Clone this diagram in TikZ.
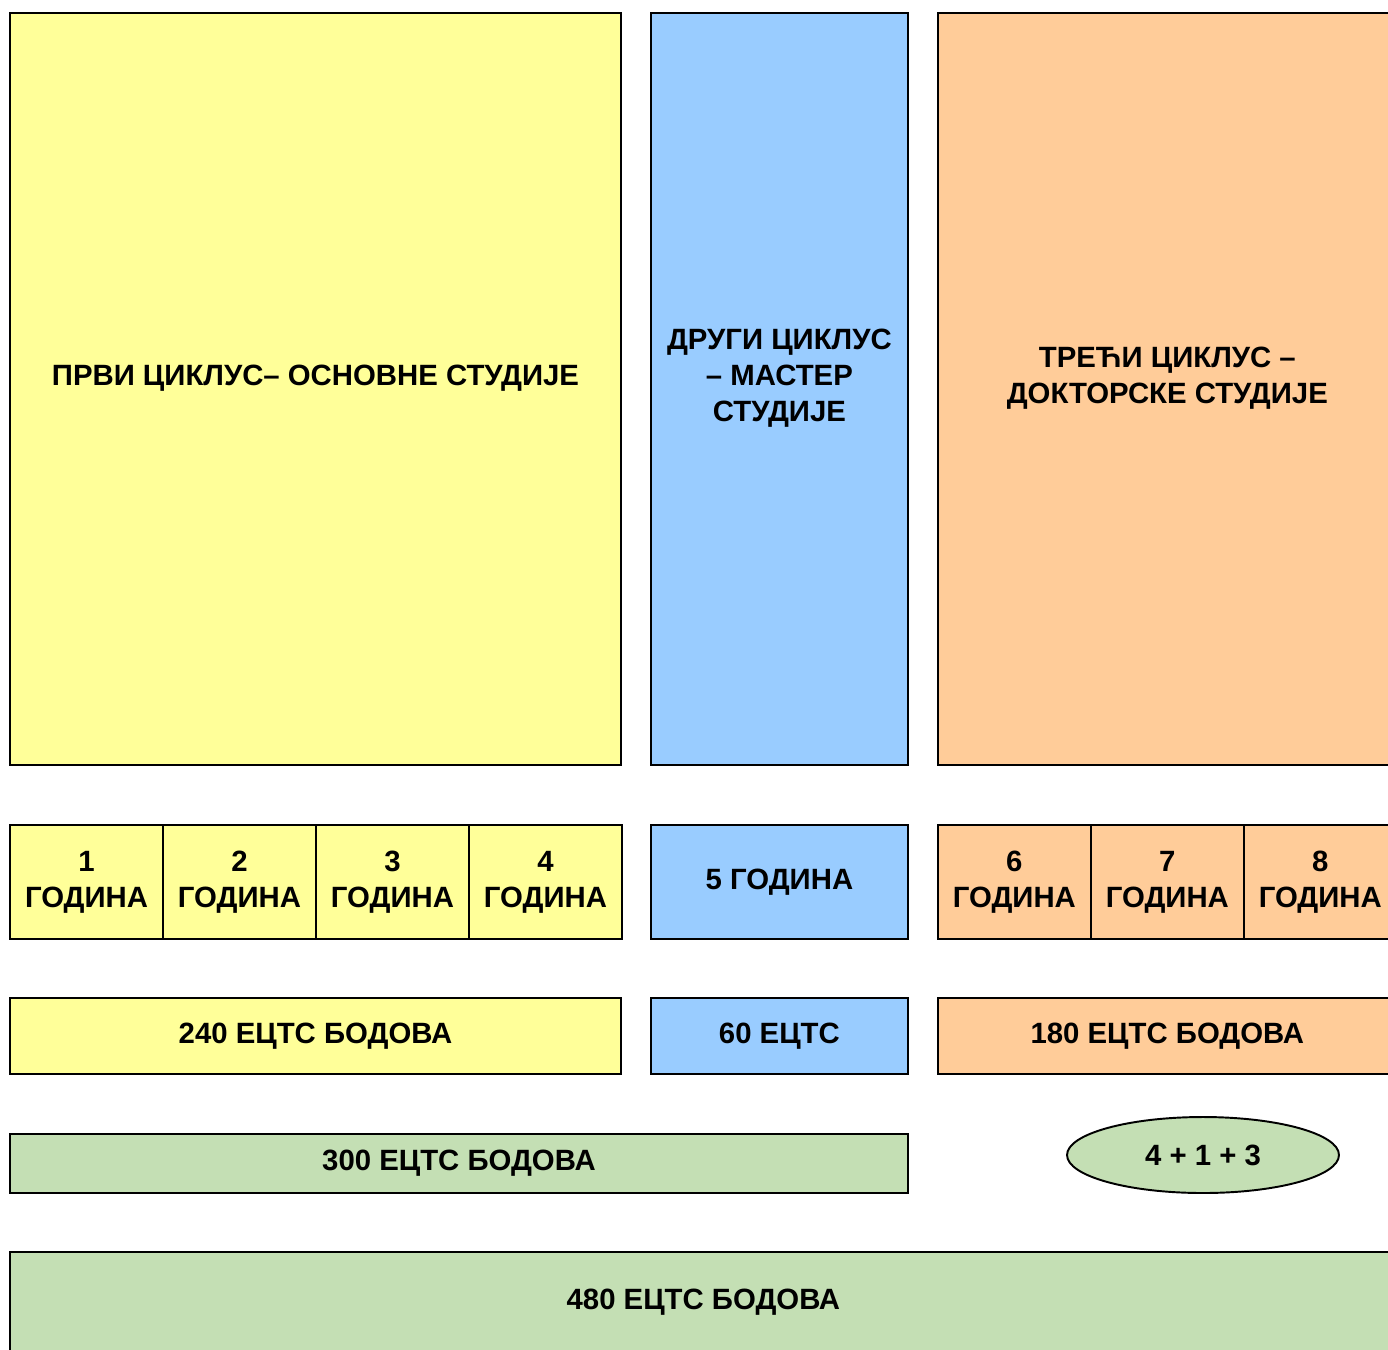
\documentclass[tikz,border=0pt]{standalone}
\usepackage{fontspec}
\setmainfont{Liberation Sans}
\usepackage{tikz}
\usetikzlibrary{positioning}
\usetikzlibrary{shapes}
\definecolor{yel}{HTML}{FFFF99}
\definecolor{blu}{HTML}{99CCFF}
\definecolor{ora}{HTML}{FFCC99}
\definecolor{grn}{HTML}{C4DFB4}

\begin{document}
\begin{tikzpicture}[x=0.02cm,y=-0.02cm,node distance=0.6cm,
                    font=\bfseries\fontsize{16.7}{20.5}\selectfont]
 \tikzstyle{box}=[draw=black, line width=1.1pt, shape=rectangle, inner sep=0pt, outer sep=0pt, align=center, text=black]
 \tikzstyle{cycle}=[box, minimum height=15.04cm]
 \tikzstyle{year}=[box, minimum height=2.28cm, minimum width=3.06cm]
 \tikzstyle{ects}=[box, minimum height=1.52cm]
 \useasboundingbox (0,0) rectangle (1388,1349);
 \clip (0,0) rectangle (1388,1349);
  \node[cycle] (P) [fill=yel, minimum width=12.22cm] at (315.5,389) {};
  \node[cycle] (D) [fill=blu, minimum width=5.14cm, right=of P] {};
  \node[cycle] (T) [fill=ora, minimum width=9.18cm, right=of D] {};
  \node (Ptxt) at ([yshift=0.22cm]P.center) {ПРВИ ЦИКЛУС– ОСНОВНЕ СТУДИЈЕ};
  \node[align=center] (Dtxt) at ([yshift=0.22cm]D.center) {ДРУГИ ЦИКЛУС\\– МАСТЕР\\СТУДИЈЕ};
  \node[align=center] (Ttxt) at ([yshift=0.22cm]T.center) {ТРЕЋИ ЦИКЛУС –\\ДОКТОРСКЕ СТУДИЈЕ};
\node[year] (Y1) [fill=yel, below=1.2cm of P.south west, anchor=north west] {1\\ГОДИНА};
\node[year] (Y2) [fill=yel, right=0pt of Y1] {2\\ГОДИНА};
\node[year] (Y3) [fill=yel, right=0pt of Y2] {3\\ГОДИНА};
\node[year] (Y4) [fill=yel, right=0pt of Y3] {4\\ГОДИНА};
\node[year] (Y5) [fill=blu, minimum width=5.14cm, below=1.2cm of D] {5 ГОДИНА};
\node[year] (Y6) [fill=ora, below=1.2cm of T.south west, anchor=north west] {6\\ГОДИНА};
\node[year] (Y7) [fill=ora, right=0pt of Y6] {7\\ГОДИНА};
\node[year] (Y8) [fill=ora, right=0pt of Y7] {8\\ГОДИНА};
\node[ects] (E1) [fill=yel, minimum width=12.22cm, below=1.18cm of Y1.south west, anchor=north west] {240 ЕЦТС БОДОВА};
\node[ects] (E2) [fill=blu, minimum width=5.14cm, below=1.18cm of Y5] {60 ЕЦТС};
\node[ects] (E3) [fill=ora, minimum width=9.18cm, below=1.18cm of Y6.south west, anchor=north west] {180 ЕЦТС БОДОВА};
\node[box] (S300) [fill=grn, minimum width=17.96cm, minimum height=1.18cm, below=1.2cm of E1.south west, anchor=north west] {300 ЕЦТС БОДОВА};
\node[box, shape=ellipse] (Sum) [fill=grn, minimum width=5.44cm, minimum height=1.52cm] at (1203,1155) {4 + 1 + 3};
\node[box] (S480) [fill=grn, minimum width=27.74cm, minimum height=2cm, below=1.18cm of S300.south west, anchor=north west] {480 ЕЦТС БОДОВА};
\end{tikzpicture}
\end{document}
